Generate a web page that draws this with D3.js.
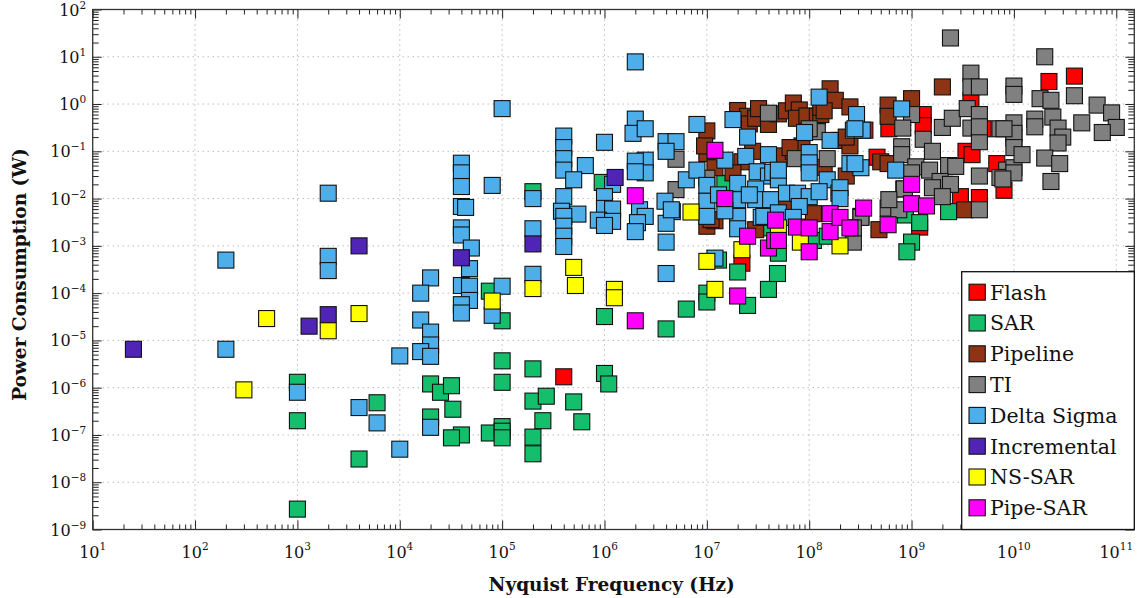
<!DOCTYPE html>
<html>
<head>
<meta charset="utf-8">
<script src="https://cdn.jsdelivr.net/npm/d3@7"></script>
<style>
body { margin: 0; background: #fff; }
text { font-family: "DejaVu Serif", serif; fill: #111; }
</style>
</head>
<body>
<div id="chart"></div>
<script>
// Each point: [Nyquist frequency (Hz), power consumption (W)]
var flash = [[4e5,1.7e-6],[2.2e7,4.3e-4],[1.2e9,2.5e-3],[2.2e10,3],[3.9e10,3.9],[3.8e9,1.2],[1.3e9,0.6],
    [1.3e9,0.35],[6e8,0.3],[3.5e8,0.28],[5e9,0.3],[3.4e9,0.1],[3.9e9,0.085],[4.6e8,0.075],[6.8e9,0.055],
    [2.1e9,0.02],[3e9,0.011],[4.6e9,0.0105],[8e9,0.015]];

var sar = [[1e3,1.3e-6],[1e3,2e-7],[1e3,2.7e-9],[4e3,3.1e-8],[6e3,4.8e-7],[2e4,1.2e-6],[2.5e4,8e-7],
    [3.2e4,1.1e-6],[3.3e4,3.5e-7],[2e4,2.4e-7],[4e4,1e-7],[3.2e4,8.7e-8],[7.5e4,1.1e-7],[1e5,1.5e-7],
    [1e5,1.2e-7],[1e5,8.7e-8],[1e5,3.7e-6],[1e5,1.3e-6],[2e5,2.5e-6],[2e5,5.2e-7],[2.7e5,6.6e-7],
    [2.5e5,2e-7],[5e5,5e-7],[6e5,1.9e-7],[2e5,9e-8],[2e5,4e-8],[1e6,2e-6],[1.1e6,1.2e-6],
    [7.5e4,1.1e-4],[1e5,2.6e-5],[2e5,1.4e-2],[9.5e5,0.022],[1e6,3.2e-5],[4e6,1.75e-5],[6.3e6,4.6e-5],
    [1e7,1e-4],[1e7,6.5e-5],[2.5e7,5.5e-5],[1.3e7,5e-4],[2e7,2.8e-4],[4e7,1.2e-4],[4.9e7,2.6e-4],
    [1.5e7,0.021],[1.1e8,1.3e-3],[1.5e8,1.6e-3],[5e7,7e-4],[4e7,2.4e-3],[8.7e8,4.5e-3],[1.2e9,3.1e-3],
    [1e9,1.2e-3],[9e8,7.5e-4],[2.3e9,5.3e-3]];

var pipeline = [[1e7,0.27],[1e7,0.09],[9.5e6,0.13],[1.2e7,0.045],[1e7,2.6e-3],[1.2e7,3.4e-3],[1.1e7,3.6e-3],
    [2e7,0.73],[2.5e7,0.55],[2.6e7,0.38],[3e7,0.5],[3.2e7,0.8],[4e7,0.37],[5e7,0.62],[6e7,0.72],[7e7,1.05],
    [8e7,0.75],[7.5e7,0.5],[9.5e7,0.56],[1.2e8,0.55],[1.3e8,0.6],[1.3e8,0.85],[1.6e8,2.1],[1.8e8,1.2],
    [2.5e8,0.87],[1.4e8,0.72],[2e8,0.17],[2.5e8,0.13],[2.3e8,0.2],[2.8e7,0.1],[2.2e7,0.06],[1.8e7,0.035],
    [5.5e7,0.08],[7e7,0.1],[8.5e7,0.13],[6.5e7,0.12],[1.4e8,0.046],[2.3e8,0.03],[4.5e7,6.5e-3],[6e7,6.5e-3],
    [3e7,2.2e-3],[1.1e8,4.8e-3],[2e9,2.3],[5.9e8,0.95],[5.9e8,0.55],[1e9,1.3],[5e8,0.06],[5.9e8,0.055],
    [4.8e8,2.2e-3],[3.2e8,4.2e-3],[3.3e9,5.8e-3]];

var ti = [[5e6,0.068],[5e6,0.0155],[1e7,0.027],[4e7,0.64],[1.2e8,0.26],[7.3e7,0.07],[1.5e8,0.07],
    [1e8,0.3],[2.7e8,1.2e-3],[3.2e8,4e-3],[2.7e8,2.4e-3],[2.4e9,25],[2e10,10],[3.8e9,4.5],[3.8e9,2.3],
    [4.6e9,2.3],[1e10,2.4],[1e10,1.6],[1e9,0.6],[8.2e8,0.31],[1.3e9,0.18],[2e9,0.32],[2.5e9,0.5],
    [3.5e9,0.8],[4.6e9,0.6],[3.8e9,0.31],[4.6e9,0.16],[4.6e9,0.33],[7.3e9,0.3],[1e10,0.4],[1e10,0.19],
    [1.6e9,0.1],[8e8,0.125],[8e8,0.085],[1.1e9,0.047],[1e9,0.035],[1.5e9,0.04],[2.3e9,0.05],[2.7e9,0.048],
    [8.5e9,0.04],[1e10,0.045],[4.6e9,0.03],[7.3e9,0.028],[1.9e9,0.023],[8.4e8,0.016],[1.6e9,0.017],
    [2.4e9,0.02],[2e9,0.011],[4.6e9,5.8e-3],[5.9e8,6.3e-3],[7.5e8,5.8e-3],[8.5e8,0.016],[6e8,9.5e-3],
    [3.9e10,1.5],[1.8e10,1.3],[2.3e10,1.2],[6.5e10,0.95],[9e10,0.65],[1e11,0.32],[7.3e10,0.25],
    [4.6e10,0.4],[2.4e10,0.53],[2.7e10,0.31],[3e10,0.2],[2.7e10,0.15],[1.6e10,0.48],[1.6e10,0.33],
    [1e10,0.24],[1e10,0.12],[8e9,0.3],[2e10,0.072],[2.8e10,0.055],[2.3e10,0.023],[1.2e10,0.085],
    [1e10,0.035],[7.8e9,0.026]];

var deltaSigma = [[200,5e-4],[200,6.5e-6],[1e3,8e-7],[2e3,1.3e-2],[2e3,6e-4],[2e3,3e-4],[4e3,3.8e-7],
    [6e3,1.8e-7],[1e4,4.7e-6],[1e4,5e-8],[4e4,5.6e-2],[4e4,3.5e-2],[4e4,1.8e-2],[4e4,6.8e-3],
    [4.4e4,6.5e-3],[4e4,2.4e-3],[4e4,1.7e-3],[5e4,9e-4],[4.8e4,3.3e-4],[4e4,1.45e-4],[4.8e4,1.4e-4],
    [4.8e4,7e-5],[4e4,5.7e-5],[4e4,3.8e-5],[8e4,1.9e-2],[2e5,1e-2],[2e5,2.3e-3],[2e5,2.5e-4],
    [2e4,2.1e-4],[1.6e4,1e-4],[1.6e4,2.7e-5],[2e4,1.5e-5],[2e4,8e-6],[1.6e4,5.8e-6],[2e4,4.6e-6],
    [1e5,1.4e-4],[8e4,3.4e-5],[2e4,1.45e-7],[1e5,0.8],[4e5,0.21],[4e5,0.12],[4e5,0.07],[4e5,0.04],
    [6.5e5,0.05],[5e5,0.025],[4e5,0.011],[3.8e5,5.4e-3],[5.5e5,4.7e-3],[4e5,4.2e-3],[4e5,2.6e-3],
    [4e5,1.6e-3],[4e5,9.7e-4],[1e6,0.155],[2e6,0.48],[1.9e6,0.24],[2.5e6,0.3],[4e6,0.16],[5e6,0.16],
    [4e6,0.1],[8e6,0.37],[2.5e6,0.065],[2e6,0.062],[2.5e6,0.035],[2e6,0.037],[1.2e6,0.02],[1e6,0.011],
    [1e6,6.2e-3],[1.2e6,6e-3],[8.7e5,3.5e-3],[1.2e6,3.3e-3],[1e6,2.7e-3],[2.2e6,5.8e-3],[2.5e6,4.2e-3],
    [2.1e6,3.1e-3],[2e6,2e-3],[3.9e6,8.8e-3],[4.6e6,5.3e-3],[4e6,3e-3],[4e6,1.2e-3],[4e6,2.6e-4],
    [6.3e6,0.025],[8e6,0.04],[2e6,7.8],[4.5e6,5.8e-3],[1.2e7,5.5e-4],[1.8e7,0.47],[2.5e7,0.2],
    [2.4e7,0.078],[1.5e7,0.065],[4e7,0.085],[3.1e7,0.037],[4e7,0.03],[1e7,0.019],[1e7,0.0088],
    [1e7,0.0042],[2e7,0.021],[2e7,0.0095],[2e7,0.0042],[2e7,0.0023],[3e7,0.016],[3e7,0.0095],
    [1.3e7,0.012],[1.5e7,0.0055],[2.6e7,0.012],[3.4e7,0.004],[4.2e7,0.0095],[1.25e8,1.4],[2.9e8,0.6],
    [9e7,0.25],[1.6e8,0.17],[2.5e8,0.055],[2.7e8,0.28],[1e8,0.094],[1e8,0.057],[1e8,0.035],[1.5e8,0.025],
    [1.95e8,0.013],[4.4e7,0.036],[5e7,0.025],[5e7,0.04],[6e7,0.013],[7.7e7,0.013],[1e8,0.011],[1.25e8,0.014],
    [8e7,0.0068],[3.6e7,0.0042],[5e7,0.005],[7e7,0.004],[2e8,0.017],[2e8,0.01],[8e8,0.79],[3.2e8,0.045],
    [7e8,0.04],[2.8e8,0.055],[3.3e8,0.28],[2.8e8,0.3]];

var incremental = [[25,6.5e-6],[1.3e3,2e-5],[2e3,3.5e-5],[4e3,1e-3],[4e4,5.6e-4],[2e5,1.1e-3],[1.27e6,0.028]];

var nsSar = [[300,9e-7],[500,2.9e-5],[2e3,1.6e-5],[4e3,3.7e-5],[8e4,6.8e-5],[2e5,1.25e-4],[5e5,3.5e-4],
    [5.2e5,1.45e-4],[1.25e6,1.2e-4],[1.25e6,8e-5],[7e6,5.2e-3],[1e7,4.7e-4],[1.2e7,1.2e-4],[2.2e7,8.3e-4],
    [5e7,2.4e-3],[8.2e7,1.2e-3],[2e8,1e-3]];

var pipeSar = [[2e6,2.6e-5],[2e6,0.0115],[1.2e7,0.105],[1.5e7,0.01],[2e7,8.7e-5],[2.5e7,1.6e-3],
    [4e7,9e-4],[4.6e7,1.3e-3],[4.7e7,3.5e-3],[5e7,1.3e-3],[7.5e7,2.5e-3],[1e8,2.4e-3],[1e8,7.5e-4],
    [1.6e8,4.8e-3],[1.6e8,2e-3],[2e8,4e-3],[2.5e8,2.4e-3],[3.4e8,6.3e-3],[5.9e8,2.8e-3],[1e9,0.02],
    [1e9,7.8e-3],[1.4e9,7e-3]];

var seriesNames = ["Flash", "SAR", "Pipeline", "TI", "Delta Sigma", "Incremental", "NS-SAR", "Pipe-SAR"];
var seriesColors = ["#ff0000", "#14be6a", "#8c3414", "#808080", "#4daeea", "#5024b4", "#ffff00", "#ff00ff"];
var seriesData = [flash, sar, pipeline, ti, deltaSigma, incremental, nsSar, pipeSar];

// decade exponents for the tick labels
var xExps = d3.range(1, 12);
var yExps = d3.range(-9, 3);

var margin = {top: 9.5, right: 5.7, bottom: 68.5, left: 92.7},
    width = 1140 - margin.left - margin.right,
    height = 598 - margin.top - margin.bottom;

var x = d3.scaleLog().domain([10, 1.5e11]).range([0, width]);
var y = d3.scaleLog().domain([1e-9, 100]).range([height, 0]);

var svg = d3.select("#chart").append("svg")
    .attr("width", 1140)
    .attr("height", 598)
    .append("g")
    .attr("transform", "translate(" + margin.left + "," + margin.top + ")");

var xMajor = xExps.map(function(e) { return Math.pow(10, e); });
var yMajor = yExps.map(function(e) { return Math.pow(10, e); });
var xMinor = [], yMinor = [];
xExps.forEach(function(e) {
    for (var m = 2; m <= 9; m++) { var v = m * Math.pow(10, e); if (v <= 1.5e11) xMinor.push(v); }
});
yExps.slice(0, -1).forEach(function(e) {
    for (var m = 2; m <= 9; m++) yMinor.push(m * Math.pow(10, e));
});

// dotted grid
svg.append("g").selectAll("line")
    .data(xMajor.slice(1))
    .enter().append("line")
    .attr("x1", function(d) { return x(d); }).attr("x2", function(d) { return x(d); })
    .attr("y1", 0).attr("y2", height)
    .style("stroke", "#9a9a9a").style("stroke-width", 1).style("stroke-dasharray", "1,4");
svg.append("g").selectAll("line")
    .data(yMajor.slice(1, -1))
    .enter().append("line")
    .attr("y1", function(d) { return y(d); }).attr("y2", function(d) { return y(d); })
    .attr("x1", 0).attr("x2", width)
    .style("stroke", "#9a9a9a").style("stroke-width", 1).style("stroke-dasharray", "1,4");

// ticks on all four sides, pointing inwards
function tickAxis(axis, vals, size, tx, ty) {
    var g = svg.append("g")
        .attr("transform", "translate(" + tx + "," + ty + ")")
        .call(axis.tickValues(vals).tickSize(-size).tickFormat(""));
    g.select(".domain").remove();
    g.selectAll("line").style("stroke", "#222").style("stroke-width", 1);
}
tickAxis(d3.axisBottom(x), xMajor, 9, 0, height);
tickAxis(d3.axisBottom(x), xMinor, 5, 0, height);
tickAxis(d3.axisTop(x), xMajor, 9, 0, 0);
tickAxis(d3.axisTop(x), xMinor, 5, 0, 0);
tickAxis(d3.axisLeft(y), yMajor, 9, 0, 0);
tickAxis(d3.axisLeft(y), yMinor, 6, 0, 0);
tickAxis(d3.axisRight(y), yMajor, 9, width, 0);
tickAxis(d3.axisRight(y), yMinor, 6, width, 0);

// tick labels 10^n
var xl = svg.append("g").selectAll("text")
    .data(xExps)
    .enter().append("text")
    .attr("x", function(d) { return x(Math.pow(10, d)); })
    .attr("y", height + 28)
    .attr("text-anchor", "middle")
    .style("font-size", "16px");
xl.append("tspan").text("10");
xl.append("tspan").attr("dy", -7.5).style("font-size", "10.5px")
    .text(function(d) { return d < 0 ? "\u2212" + (-d) : d; });

var yl = svg.append("g").selectAll("text")
    .data(yExps)
    .enter().append("text")
    .attr("x", -6.5)
    .attr("y", function(d) { return y(Math.pow(10, d)) + 6; })
    .attr("text-anchor", "end")
    .style("font-size", "16px");
yl.append("tspan").text("10");
yl.append("tspan").attr("dy", -7).style("font-size", "10.5px")
    .text(function(d) { return d < 0 ? "\u2212" + (-d) : d; });

// markers
seriesData.forEach(function(data, i) {
    svg.append("g").selectAll("rect")
        .data(data)
        .enter().append("rect")
        .attr("x", function(d) { return x(d[0]) - 8; })
        .attr("y", function(d) { return y(d[1]) - 8; })
        .attr("width", 16)
        .attr("height", 16)
        .style("fill", seriesColors[i])
        .style("stroke", "#111")
        .style("stroke-width", 1.1);
});

// frame
svg.append("rect")
    .attr("width", width).attr("height", height)
    .style("fill", "none").style("stroke", "#333").style("stroke-width", 1.3);

// legend
var lx = 869, ly = 262.2;
svg.append("rect")
    .attr("x", lx).attr("y", ly)
    .attr("width", width - lx).attr("height", height - ly)
    .style("fill", "#fff").style("stroke", "#111").style("stroke-width", 1.3);
var leg = svg.append("g").selectAll("g")
    .data(seriesNames)
    .enter().append("g")
    .attr("transform", function(d, i) { return "translate(" + (lx + 7.3) + "," + (ly + 20.5 + i * 30.8) + ")"; });
leg.append("rect")
    .attr("x", 0).attr("y", -8).attr("width", 16.3).attr("height", 16)
    .style("fill", function(d, i) { return seriesColors[i]; })
    .style("stroke", "#111").style("stroke-width", 1.1);
leg.append("text")
    .attr("x", 21).attr("dy", "0.36em")
    .style("font-size", "20.5px")
    .text(function(d) { return d; });

// axis titles
svg.append("text")
    .attr("transform", "translate(-66.5," + (height / 2 + 5) + ") rotate(-90)")
    .attr("text-anchor", "middle")
    .style("font-size", "18.5px").style("font-weight", "bold")
    .text("Power Consumption (W)");

svg.append("text")
    .attr("x", 519).attr("y", height + 61.5)
    .attr("text-anchor", "middle")
    .style("font-size", "18.5px").style("font-weight", "bold")
    .text("Nyquist Frequency (Hz)");
</script>
</body>
</html>
